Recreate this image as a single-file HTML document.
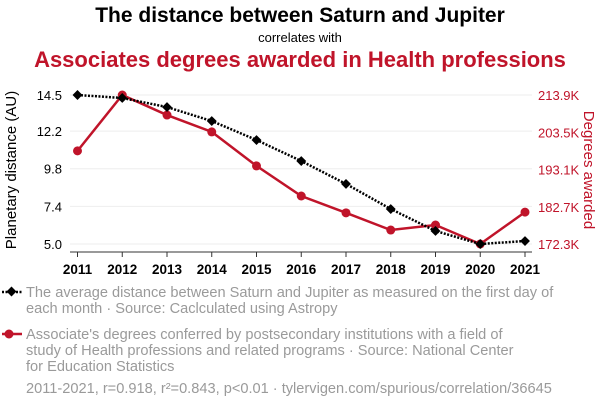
<!DOCTYPE html>
<html><head><meta charset="utf-8">
<style>
body{margin:0;background:#fff;width:600px;height:408px;overflow:hidden;font-family:"Liberation Sans",sans-serif;}
</style></head>
<body>
<svg width="600" height="408" xmlns="http://www.w3.org/2000/svg" font-family="Liberation Sans, sans-serif">
<text x="300" y="22" text-anchor="middle" font-size="21" font-weight="bold" fill="#000">The distance between Saturn and Jupiter</text>
<text x="300" y="42" text-anchor="middle" font-size="13" fill="#000">correlates with</text>
<text x="300" y="67" text-anchor="middle" font-size="22" font-weight="bold" fill="#c0142a">Associates degrees awarded in Health professions</text>
<g id="grid"></g>
<g id="axes"></g>
<g id="series"></g>
<text transform="translate(16,170) rotate(-90)" text-anchor="middle" font-size="15" fill="#000">Planetary distance (AU)</text>
<text transform="translate(584,170) rotate(90)" text-anchor="middle" font-size="15" fill="#c0142a">Degrees awarded</text>
<g>
<line x1="2" y1="292" x2="22" y2="292" stroke="#000" stroke-width="2.5" stroke-dasharray="2,1.5"/>
<rect x="8" y="288" width="7" height="7" fill="#000" transform="rotate(45 11.5 291.5)"/>
<text x="26" y="297" font-size="14.6" fill="#9a9a9a">The average distance between Saturn and Jupiter as measured on the first day of</text>
<text x="26" y="313" font-size="14.6" fill="#9a9a9a">each month · Source: Caclculated using Astropy</text>
</g>
<g>
<line x1="2" y1="334" x2="22" y2="334" stroke="#c0142a" stroke-width="2.5"/>
<circle cx="9" cy="334" r="4.5" fill="#c0142a"/>
<text x="26" y="339" font-size="14.6" fill="#9a9a9a">Associate's degrees conferred by postsecondary institutions with a field of</text>
<text x="26" y="355" font-size="14.6" fill="#9a9a9a">study of Health professions and related programs · Source: National Center</text>
<text x="26" y="371" font-size="14.6" fill="#9a9a9a">for Education Statistics</text>
</g>
<text x="26" y="393" font-size="14.6" fill="#9a9a9a">2011-2021, r=0.918, r²=0.843, p&lt;0.01 · tylervigen.com/spurious/correlation/36645</text>
<script>
var years=[2011,2012,2013,2014,2015,2016,2017,2018,2019,2020,2021];
var distance=[14.5,14.31,13.73,12.84,11.63,10.29,8.83,7.23,5.83,5.0,5.19];
var degrees=[198.3,213.9,208.3,203.6,194.1,185.7,181.0,176.2,177.6,172.3,181.2];
var leftTicks=[5.0,7.4,9.8,12.2,14.5];
var rightTicks=[172.3,182.7,193.1,203.5,213.9];
var NS="http://www.w3.org/2000/svg";
function x(i){return 77.5+(525-77.5)*i/(years.length-1);}
function yL(v){return 244-(v-5.0)/(14.5-5.0)*149;}
function yR(v){return 244-(v-172.3)/(213.9-172.3)*149;}
function mk(tag,attrs,parent,txt){var e=document.createElementNS(NS,tag);for(var k in attrs)e.setAttribute(k,attrs[k]);if(txt!==undefined)e.textContent=txt;document.getElementById(parent).appendChild(e);return e;}
leftTicks.forEach(function(t){
 var g=mk('line',{x1:70,x2:532,y1:yL(t),y2:yL(t),stroke:'#eee','stroke-width':1},'grid');
 
 
 var l=mk('text',{x:62,y:yL(t)+5,'text-anchor':'end','font-size':13,fill:'#000'},'axes',t.toFixed(1));
 
 
});
rightTicks.forEach(function(t){
 var l=mk('text',{x:538,y:yR(t)+5,'font-size':13,fill:'#c0142a'},'axes',t.toFixed(1)+'K');
 
 
});
var ax=mk('line',{x1:70,x2:532,y1:252,y2:252,stroke:'#333','stroke-width':1},'axes');


years.forEach(function(yv,i){
 var tk=mk('line',{x1:x(i),x2:x(i),y1:252,y2:257,stroke:'#333'},'axes');
 
 
 var l=mk('text',{x:x(i),y:274,'text-anchor':'middle','font-size':13.5,'font-weight':'bold',fill:'#000'},'axes',String(yv));
 
 
});
var rp=degrees.map(function(v,i){return x(i)+','+yR(v);}).join(' ');
var rl=mk('polyline',{points:rp,fill:'none',stroke:'#c0142a','stroke-width':2.5},'series');


degrees.forEach(function(v,i){
 var c=mk('circle',{cx:x(i),cy:yR(v),r:4.5,fill:'#c0142a'},'series');
 
 
});
var bp=distance.map(function(v,i){return x(i)+','+yL(v);}).join(' ');
var bl=mk('polyline',{points:bp,fill:'none',stroke:'#000','stroke-width':2.5,'stroke-dasharray':'2,1.5'},'series');


distance.forEach(function(v,i){
 var d=mk('rect',{x:x(i)-3.5,y:yL(v)-3.5,width:7,height:7,fill:'#000',transform:'rotate(45 '+x(i)+' '+yL(v)+')'},'series');
 
 
});
</script>
</svg>
</body></html>
